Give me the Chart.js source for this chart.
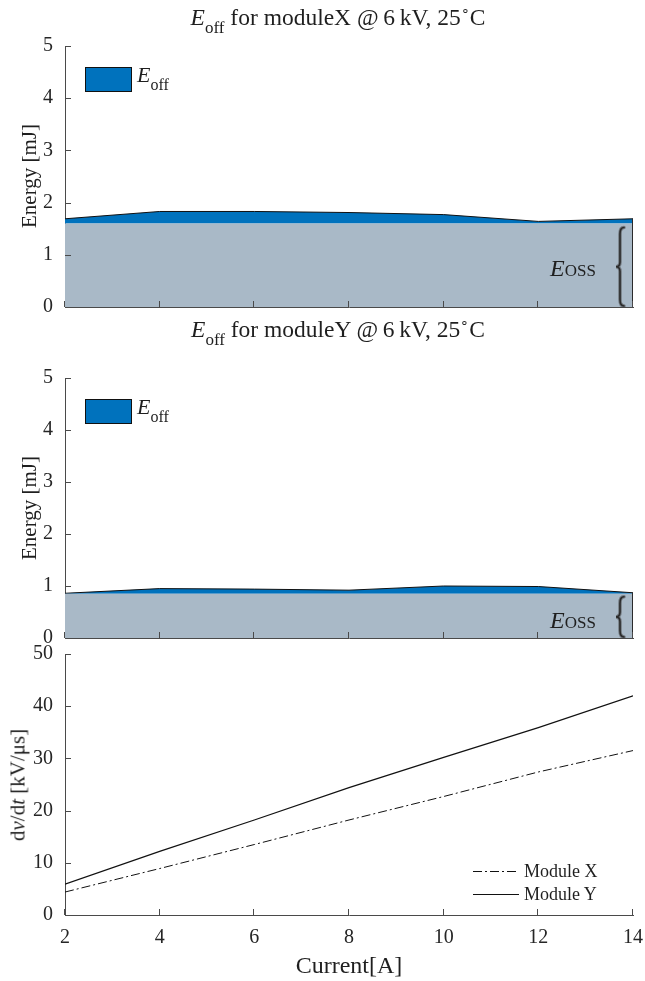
<!DOCTYPE html>
<html>
<head>
<meta charset="utf-8">
<script src="https://cdn.jsdelivr.net/npm/chart.js@4/dist/chart.umd.min.js"></script>
<style>
  html, body { margin: 0; padding: 0; background: #ffffff; }
  #fig { position: relative; width: 645px; height: 981px; overflow: hidden;
         font-family: "Liberation Serif", "Times New Roman", serif; color: #1f1f1f; }
  #fig canvas { position: absolute; left: 0; }
  .t { position: absolute; white-space: nowrap; line-height: 1; }
  .title { font-size: 23.5px; transform: translateX(-50%); }
  .title .sub { font-size: 17px; position: relative; top: 8px; }
  .title .deg { font-size: 14px; position: relative; top: -10px; }
  .ylab { font-size: 21px; transform: translate(-50%, -50%) rotate(-90deg); }
  .xlab { font-size: 24px; transform: translateX(-50%); }
  .key { position: absolute; width: 47px; height: 25px; box-sizing: border-box;
         background: #0072bd; border: 1px solid #111; }
  .keylab { font-size: 22px; }
  .keylab .sub { font-size: 16px; position: relative; top: 8px; }
  .oss { font-size: 24px; }
  .oss .r { font-size: 17px; font-style: normal; }
  .lk { font-size: 18px; }
</style>
</head>
<body>
<div id="fig">
  <canvas id="chartX" width="645" height="320" style="top:0px"></canvas>
  <canvas id="chartY" width="645" height="328" style="top:320px"></canvas>
  <canvas id="chartD" width="645" height="341" style="top:640px"></canvas>

  <div class="t title" style="left:338px; top:6px;"><i>E</i><span class="sub">off</span> for moduleX @&thinsp;6&thinsp;kV, 25<span class="deg">&#8728;</span>C</div>
  <div class="t title" style="left:338px; top:318px;"><i>E</i><span class="sub">off</span> for moduleY @&thinsp;6&thinsp;kV, 25<span class="deg">&#8728;</span>C</div>

  <div class="key" style="left:85px; top:67px;"></div>
  <div class="t keylab" style="left:137px; top:64px;"><i>E</i><span class="sub">off</span></div>
  <div class="key" style="left:85px; top:399px;"></div>
  <div class="t keylab" style="left:137px; top:396px;"><i>E</i><span class="sub">off</span></div>

  <div class="t oss" style="left:550px; top:256px;"><i>E</i><span class="r">OSS</span></div>
  <div class="t oss" style="left:550px; top:608px;"><i>E</i><span class="r">OSS</span></div>

  <div class="t ylab" style="left:29px; top:176px;">Energy [mJ]</div>
  <div class="t ylab" style="left:29px; top:508px;">Energy [mJ]</div>
  <div class="t ylab" style="left:18px; top:785px;">d<i>v</i>/d<i>t</i> [kV/&mu;s]</div>
  <div class="t xlab" style="left:349px; top:953px;">Current[A]</div>

  <div class="t lk" style="left:524px; top:862px;">Module X</div>
  <div class="t lk" style="left:524px; top:885px;">Module Y</div>
</div>

<script>
// Load current of each switching measurement [A]
const currents = [2, 4, 6, 8, 10, 12, 14];

// Module X: output-capacitance energy and total turn-off energy [mJ]
const eOssX = [1.6, 1.6, 1.6, 1.6, 1.6, 1.6, 1.6];
const eOffX = [1.69, 1.83, 1.83, 1.81, 1.77, 1.64, 1.69];

// Module Y: output-capacitance energy and total turn-off energy [mJ]
const eOssY = [0.85, 0.85, 0.85, 0.85, 0.85, 0.85, 0.85];
const eOffY = [0.86, 0.95, 0.94, 0.92, 1.0, 0.99, 0.87];

// Turn-off dv/dt [kV/us]
const dvdtX = [4.4, 8.9, 13.5, 18.2, 22.7, 27.4, 31.5];
const dvdtY = [5.9, 12.2, 18.2, 24.4, 30.2, 35.9, 42.0];

// Axis tick values
const currentTicks = [2, 4, 6, 8, 10, 12, 14];
const energyTicks = [0, 1, 2, 3, 4, 5];
const dvdtTicks = [0, 10, 20, 30, 40, 50];

const SERIF = '"Liberation Serif", "Times New Roman", serif';
const AXIS_COLOR = '#4a4a4a';
const TEXT_COLOR = '#262626';
const OSS_GRAY = '#a9b9c7';
const OFF_BLUE = '#0072bd';

const pts = (ys) => currents.map((c, i) => ({ x: c, y: ys[i] }));

// short tick marks pointing into the plot area
const inwardTicks = {
  id: 'inwardTicks',
  afterDraw(chart) {
    const { ctx, chartArea: a } = chart;
    const xs = chart.scales.x, ys = chart.scales.y;
    const len = 6;
    ctx.save();
    ctx.strokeStyle = AXIS_COLOR;
    ctx.lineWidth = 1;
    ctx.beginPath();
    xs.ticks.forEach(t => {
      const px = Math.round(xs.getPixelForValue(t.value)) - 0.5;
      ctx.moveTo(px, a.bottom);
      ctx.lineTo(px, a.bottom - len);
    });
    ys.ticks.forEach(t => {
      const py = Math.round(ys.getPixelForValue(t.value)) + 0.5;
      ctx.moveTo(a.left, py);
      ctx.lineTo(a.left + len, py);
    });
    ctx.stroke();
    ctx.restore();
  }
};

// right-hand edge of the stacked area and the curly brace marking E_OSS
const ossBrace = {
  id: 'ossBrace',
  afterDatasetsDraw(chart, args, opts) {
    if (!opts || !opts.enabled) return;
    const { ctx, chartArea: a } = chart;
    const xs = chart.scales.x, ys = chart.scales.y;
    const top = chart.data.datasets[1].data;
    const last = top[top.length - 1];
    const ex = xs.getPixelForValue(last.x) - 0.5;
    ctx.save();
    ctx.strokeStyle = '#2b2b2b';
    ctx.lineWidth = 1;
    ctx.beginPath();
    ctx.moveTo(ex, ys.getPixelForValue(last.y));
    ctx.lineTo(ex, ys.getPixelForValue(0));
    ctx.stroke();

    const base = chart.data.datasets[0].data[0].y;
    const y0 = ys.getPixelForValue(base) + opts.inset;
    const y1 = ys.getPixelForValue(0) - 1;
    const x = a.right - 17, w = 8, ym = (y0 + y1) / 2;
    const path = () => {
      ctx.beginPath();
      ctx.moveTo(x + w, y0);
      ctx.quadraticCurveTo(x + w / 2, y0, x + w / 2, y0 + w * 0.8);
      ctx.lineTo(x + w / 2, ym - w * 0.6);
      ctx.quadraticCurveTo(x + w / 2, ym, x, ym);
      ctx.quadraticCurveTo(x + w / 2, ym, x + w / 2, ym + w * 0.6);
      ctx.lineTo(x + w / 2, y1 - w * 0.8);
      ctx.quadraticCurveTo(x + w / 2, y1, x + w, y1);
      ctx.stroke();
    };
    ctx.lineCap = 'round';
    ctx.strokeStyle = 'rgba(70,70,70,0.55)';
    ctx.lineWidth = 3.5;
    path();
    ctx.strokeStyle = '#2a2a2a';
    ctx.lineWidth = 1.6;
    path();
    ctx.restore();
  }
};

// line-style samples of the dv/dt key
const lineKey = {
  id: 'lineKey',
  afterDatasetsDraw(chart, args, opts) {
    if (!opts || !opts.enabled) return;
    const { ctx } = chart;
    chart.data.datasets.forEach((ds, i) => {
      const y = opts.rows[i] + 0.5;
      ctx.save();
      ctx.strokeStyle = ds.borderColor;
      ctx.lineWidth = ds.borderWidth;
      ctx.setLineDash(ds.borderDash || []);
      ctx.beginPath();
      ctx.moveTo(opts.x0, y);
      ctx.lineTo(opts.x1, y);
      ctx.stroke();
      ctx.restore();
    });
  }
};

Chart.register(inwardTicks, ossBrace, lineKey);

// keep the plot box exactly where the layout padding puts it
function fixSize(s, w, h) {
  if (w !== undefined) s.width = w;
  if (h !== undefined) s.height = h;
  s.paddingLeft = s.paddingRight = s.paddingTop = s.paddingBottom = 0;
}

function axes(opts) {
  return {
    x: {
      type: 'linear', min: 2, max: 14, z: 1,
      afterBuildTicks: s => { s.ticks = currentTicks.map(v => ({ value: v })); },
      afterFit: s => fixSize(s, undefined, opts.xHeight),
      grid: { display: false, drawTicks: false },
      border: { display: true, color: AXIS_COLOR, width: 1 },
      ticks: { display: opts.xLabels, padding: 11, color: TEXT_COLOR,
               font: { family: SERIF, size: 20 }, maxRotation: 0 }
    },
    y: {
      type: 'linear', min: 0, max: opts.yMax, z: 1,
      afterBuildTicks: s => { s.ticks = opts.yTicks.map(v => ({ value: v })); },
      afterFit: s => fixSize(s, 65, undefined),
      grid: { display: false, drawTicks: false },
      border: { display: true, color: AXIS_COLOR, width: 1 },
      ticks: { padding: 12, color: TEXT_COLOR, font: { family: SERIF, size: 20 } }
    }
  };
}

function energyChart(id, eOss, eOff, padTop, xHeight, inset) {
  return new Chart(document.getElementById(id), {
    type: 'line',
    data: {
      datasets: [
        { label: 'E_OSS', data: pts(eOss), fill: 'origin', backgroundColor: OSS_GRAY,
          borderColor: 'rgba(0,0,0,0)', borderWidth: 0, pointRadius: 0, tension: 0 },
        { label: 'E_off', data: pts(eOff), fill: '-1', backgroundColor: OFF_BLUE,
          borderColor: '#111111', borderWidth: 1, pointRadius: 0, tension: 0 }
      ]
    },
    options: {
      responsive: false, animation: false, devicePixelRatio: 1,
      layout: { padding: { left: 0, right: 12, top: padTop, bottom: 0 } },
      scales: axes({ xHeight, xLabels: false, yMax: 5, yTicks: energyTicks }),
      plugins: { legend: { display: false }, tooltip: { enabled: false },
                 ossBrace: { enabled: true, inset: inset } }
    }
  });
}

energyChart('chartX', eOssX, eOffX, 46, 13, 4);
energyChart('chartY', eOssY, eOffY, 58, 10, 3);

new Chart(document.getElementById('chartD'), {
  type: 'line',
  data: {
    datasets: [
      { label: 'Module X', data: pts(dvdtX), fill: false, borderColor: '#111111',
        borderWidth: 1, borderDash: [9, 3, 2, 3], pointRadius: 0, tension: 0 },
      { label: 'Module Y', data: pts(dvdtY), fill: false, borderColor: '#111111',
        borderWidth: 1.2, pointRadius: 0, tension: 0 }
    ]
  },
  options: {
    responsive: false, animation: false, devicePixelRatio: 1,
    layout: { padding: { left: 0, right: 12, top: 14, bottom: 0 } },
    scales: axes({ xHeight: 66, xLabels: true, yMax: 50, yTicks: dvdtTicks }),
    plugins: { legend: { display: false }, tooltip: { enabled: false },
               lineKey: { enabled: true, x0: 473, x1: 519, rows: [231, 254] } }
  }
});
</script>
</body>
</html>
